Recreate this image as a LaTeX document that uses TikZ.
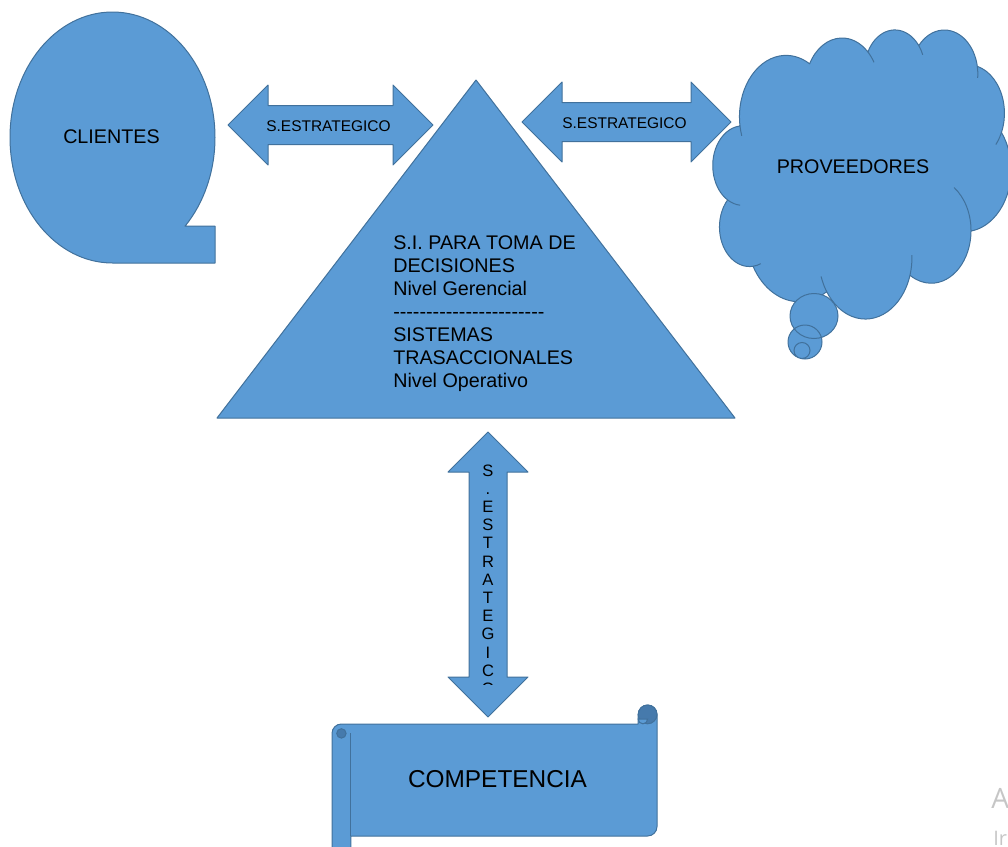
\documentclass[tikz,border=0pt]{standalone}
\usepackage{fontspec}
\setmainfont{Liberation Sans}
\newfontfamily\avisofont{Open Sans}
\definecolor{azul}{RGB}{91,155,213}
\definecolor{borde}{RGB}{65,113,156}
\definecolor{oscuro}{RGB}{70,122,172}
\tikzset{
  figura/.style={fill=azul,draw=borde,line width=0.75pt,line join=round},
  trazo/.style={draw=borde,line width=0.75pt},
  texto/.style={font=\fontsize{14.8}{17}\selectfont,inner sep=0pt},
  rotulo/.style={font=\fontsize{11.6}{13}\selectfont,inner sep=0pt},
  letra/.style={font=\fontsize{12.4}{13}\selectfont,inner sep=0pt},
  titulo/.style={font=\fontsize{18.3}{21}\selectfont,inner sep=0pt}
}
\newcommand{\rayas}{\foreach \k in {1,...,23}{\hbox{-}}}
\newcommand{\harrow}[5]{%
  \draw[figura] (#2,#4) -- (#2+40,#4-40) -- (#2+40,#4-19.5) -- (#3-40,#4-19.5) -- (#3-40,#4-40) -- (#3,#4)
    -- (#3-40,#4+40) -- (#3-40,#4+19.5) -- (#2+40,#4+19.5) -- (#2+40,#4+40) -- cycle;
  \node[rotulo,anchor=base] (#1) at ({(#2+#3)/2-2},#4+6) {#5};}

\begin{document}
\begin{tikzpicture}[x=0.75pt,y=-0.75pt]
	\useasboundingbox (0,0) rectangle (1008,847);
	\clip (0,0) rectangle (1008,847);
	% clientes
	\draw[figura] (112.5,263) arc[start angle=90,end angle=405,x radius=102.5,y radius=125.5] -- (215,226.2) -- (215,263) -- cycle;
	\node[texto,anchor=base] (clientes) at (111.5,143) {CLIENTES};
	\harrow{sel}{228}{433}{125}{S.ESTRATEGICO}
	\harrow{ser}{522}{731}{122}{S.ESTRATEGICO}
	% piramide
	\draw[figura] (476,80) -- (735,418) -- (217,418) -- cycle;
	\foreach \linea [count=\i] in {S.I. PARA TOMA DE, DECISIONES, Nivel Gerencial, \rayas, SISTEMAS, TRASACCIONALES, Nivel Operativo}
		\node[texto,anchor=base west] (sis\i) at (393,{249+23*(\i-1)}) {\linea};
	% proveedores
	\begin{scope}[shift={(713,29)},x=0.51736pt,y=-0.50174pt]
		\coordinate (n0) at (39,143.7);
		\draw[figura] (n0)
			arc[start angle=-187.75,end angle=-59.64,x radius=67.53,y radius=91.90] coordinate (n1)
			arc[start angle=-152.02,end angle=-45.45,x radius=53.33,y radius=72.67] coordinate (n2)
			arc[start angle=-153.49,end angle=-37.32,x radius=43.65,y radius=59.45] coordinate (n3)
			arc[start angle=-139.73,end angle=-10.22,x radius=48.57,y radius=65.95] coordinate (n4)
			arc[start angle=-74.77,end angle=23.21,x radius=53.33,y radius=72.73] coordinate (n5)
			arc[start angle=-37.52,end angle=81.86,x radius=67.75,y radius=92.20] coordinate (n6)
			arc[start angle=0.46,end angle=121.98,x radius=57.85,y radius=78.67] coordinate (n7)
			arc[start angle=16.84,end angle=146.24,x radius=67.52,y radius=92.15] coordinate (n8)
			arc[start angle=58.98,end angle=150.18,x radius=77.20,y radius=105.43] coordinate (n9)
			arc[start angle=-276.69,end angle=-136.90,x radius=43.60,y radius=59.18] coordinate (n10)
			arc[start angle=-239.66,end angle=-95.89,x radius=43.45,y radius=59.45] -- cycle;
		\draw[trazo] (n0) arc[start angle=-187.75,end angle=-198,x radius=67.53,y radius=91.90];
		\draw[trazo] (n2) arc[start angle=-45.45,end angle=-30,x radius=53.33,y radius=72.67];
		\draw[trazo] (n3) arc[start angle=-37.32,end angle=-22,x radius=43.65,y radius=59.45];
		\draw[trazo] (n4) arc[start angle=-10.22,end angle=5,x radius=48.57,y radius=65.95];
		\draw[trazo] (n5) arc[start angle=23.21,end angle=40,x radius=53.33,y radius=72.73];
		\draw[trazo] (n6) arc[start angle=0.46,end angle=-55,x radius=57.85,y radius=78.67];
		\draw[trazo] (n7) arc[start angle=16.84,end angle=-2,x radius=67.52,y radius=92.15];
		\draw[trazo] (n8) arc[start angle=146.24,end angle=162,x radius=67.52,y radius=92.15];
		\draw[trazo] (n9) arc[start angle=-276.69,end angle=-292,x radius=43.60,y radius=59.18];
		\draw[trazo] (n10) arc[start angle=-239.66,end angle=-265,x radius=43.45,y radius=59.45];
	\end{scope}
	\fill[azul] (814,316) ellipse[x radius=24,y radius=22.5] (805,342) circle[radius=17] (802,350.5) circle[radius=8];
	\draw[trazo] (814,316) ellipse[x radius=24,y radius=22.5] (805,342) circle[radius=17] (802,350.5) circle[radius=8];
	\node[texto,anchor=base] (proveedores) at (853,173) {PROVEEDORES};
	% flecha vertical
	\draw[figura] (488,432) -- (528,472) -- (507,472) -- (507,677) -- (528,677) -- (488,717) -- (448,677) -- (469,677) -- (469,472) -- (448,472) -- cycle;
	\begin{scope}
		\clip (469,440) rectangle (507,684);
		\foreach \letra [count=\i] in {S,.,E,S,T,R,A,T,E,G,I,C,O}
			\node[letra,anchor=base] (v\i) at (488,{476+18.2*(\i-1)}) {\letra};
	\end{scope}
	% competencia
	\draw[figura] (332,860) -- (332,733.4) arc[start angle=180,end angle=270,radius=9.4] -- (638.2,724) -- (638.2,714.4)
		arc[start angle=180,end angle=360,radius=9.4] -- (657,826.6) arc[start angle=0,end angle=90,radius=9.4] -- (350.8,836) -- (350.8,860) -- cycle;
	\draw[trazo] (350.8,733.4) -- (350.8,836);
	\filldraw[fill=oscuro,trazo] (341.4,733.4) circle[radius=4.7];
	\filldraw[fill=oscuro,trazo] (647.6,714.4) circle[radius=9.4];
	\filldraw[fill=azul,trazo] (638.2,719.1) arc[start angle=180,end angle=0,radius=4.7] -- cycle;
	\node[titulo,anchor=base] (competencia) at (497.5,787) {COMPETENCIA};
	% aviso
	\node[font=\avisofont\fontsize{21}{24}\selectfont,text=gray!45,anchor=base west,inner sep=0pt] (aviso1) at (991,808) {A};
	\node[font=\avisofont\fontsize{15}{18}\selectfont,text=gray!45,anchor=base west,inner sep=0pt] (aviso2) at (993,845) {Ir};
\end{tikzpicture}
\end{document}
